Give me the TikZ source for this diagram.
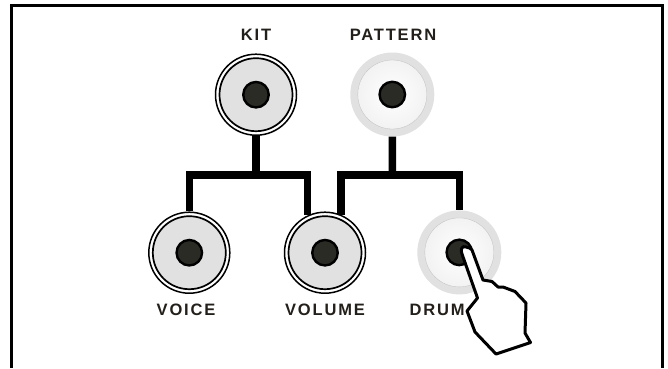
\documentclass[tikz,border=0pt]{standalone}
\usepackage{fontspec}
\setmainfont{Liberation Sans}[Scale=1]
\newfontfamily\lblfont{Liberation Sans}[LetterSpace=11]
\definecolor{inkc}{HTML}{231F1A}
\definecolor{facec}{HTML}{E1E1E1}
\definecolor{holec}{HTML}{2B2B26}
\begin{document}
\begin{tikzpicture}[x=1pt,y=-1pt,
  ringnode/.style={circle,inner sep=0pt,minimum size=81pt,draw=black,line width=1.5pt,fill=white},
  facenode/.style={circle,inner sep=0pt,minimum size=73pt,draw=black,line width=1.7pt,fill=facec},
  litnode/.style={circle,inner sep=0pt,minimum size=84pt,fill=facec},
  litface/.style={circle,inner sep=0pt,minimum size=69pt,inner color=white,outer color=white!95!black,draw=facec!85!black,line width=.3pt},
  holenode/.style={circle,inner sep=0pt,minimum size=25.5pt,draw=black,line width=2.4pt,fill=holec},
  wire/.style={draw=black,line width=7.5pt},
  lbl/.style={inner sep=0pt,text=inkc,font=\lblfont\fontsize{16.5}{18}\selectfont\bfseries},
  framel/.style={draw=black,line width=2.8pt},
  handl/.style={draw=black,line width=3pt,fill=white,line join=round}]
\useasboundingbox (0,0) rectangle (668,368);
\fill[white] (0,0) rectangle (668,368);
\coordinate (fa) at (11.4,368);
\coordinate (fb) at (11.4,5.4);
\coordinate (fc) at (662.5,5.4);
\coordinate (fd) at (662.5,368);
\draw[framel] (fa) -- (fb) -- (fc) -- (fd);
% knobs
\node[ringnode] (kit) at (256,94.7) {};
\node[facenode] (kitface) at (kit) {};
\node[holenode] (kithole) at (kit) {};
\node[litnode] (pattern) at (392.3,94.5) {};
\node[litface] (patternface) at (pattern) {};
\node[holenode] (patternhole) at (pattern) {};
\node[ringnode] (voice) at (189.3,252.7) {};
\node[facenode] (voiceface) at (voice) {};
\node[holenode] (voicehole) at (voice) {};
\node[ringnode] (volume) at (325,252.7) {};
\node[facenode] (volumeface) at (volume) {};
\node[holenode] (volumehole) at (volume) {};
\node[litnode] (drum) at (459.3,252.4) {};
\node[litface] (drumface) at (drum) {};
\node[holenode] (drumhole) at (drum) {};
% connectors
\coordinate (kitbar) at (256,175);
\coordinate (patbar) at (392.5,175);
\draw[wire] (kit.south) -- (kitbar);
\draw[wire] (voice.north) |- (kitbar) -| (volume.115);
\draw[wire] (pattern.south) -- (patbar);
\draw[wire] (volume.67) |- (patbar) -| (drum.north);
% labels
\node[lbl] (kitlbl) at (256,35) {KIT};
\node[lbl] (patlbl) at (393,35) {PATTERN};
\node[lbl] (voicelbl) at (186,310) {VOICE};
\node[lbl] (vollbl) at (325,310) {VOLUME};
\node[lbl,anchor=west] (drumlbl) at (409.5,310) {DRUM};
% hand
\draw[handl] (466,247) .. controls (462,245) and (460,250) .. (462,254)
 -- (477.5,298) -- (467,311) -- (475,332) -- (496,354) -- (530.5,342.5) -- (525,333)
 -- (526,303) -- (515,291.5) -- (503,287) -- (498,287) -- (492,281.5) -- (483,280)
 -- (472,250) .. controls (471,248) and (469,248) .. (466,247) -- cycle;
\end{tikzpicture}
\end{document}
